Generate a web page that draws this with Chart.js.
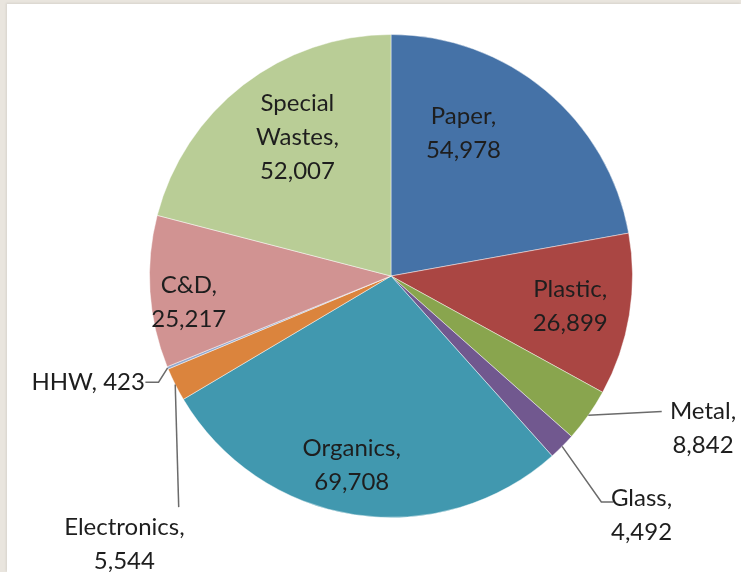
<!DOCTYPE html>
<html>
<head>
<meta charset="utf-8">
<script src="https://cdn.jsdelivr.net/npm/chart.js@4"></script>
<style>
  html, body { margin: 0; padding: 0; }
  body { background: #e9e5de; width: 741px; height: 572px; overflow: hidden; position: relative; }
  #plot { position: absolute; left: 7px; top: 4px; width: 734px; height: 568px; background: #fff;
          box-shadow: -1px -1px 2px rgba(0,0,0,0.08); }
</style>
</head>
<body>
<div id="plot"><canvas id="wasteChart" width="734" height="568"></canvas></div>
<script>
// waste composition (tons)
const categories = ["Paper", "Plastic", "Metal", "Glass", "Organics", "Electronics", "HHW", "C&D", "Special Wastes"];
const tons = [54978, 26899, 8842, 4492, 69708, 5544, 423, 25217, 52007];
const colors = ["#4572A7", "#AA4643", "#89A54E", "#71588F", "#4198AF", "#DB843D", "#93A9CF", "#D19392", "#B9CD96"];

// label text lines (name split where the original wraps)
const labelLines = [
  ["Paper,"], ["Plastic,"], ["Metal,"], ["Glass,"], ["Organics,"],
  ["Electronics,"], ["HHW, 423"], ["C&D,"], ["Special", "Wastes,"]
];

// label block centre, relative to pie centre, in units of radius
const labelPos = [
  [0.30, -0.59], [0.742, 0.125], [1.292, 0.63], [1.0375, 0.99], [-0.1625, 0.785],
  [-1.104, 1.11], [-1.254, 0.44], [-0.8375, 0.11], [-0.3875, -0.575]
];

// leader line points (label side first), radius units; null = no leader
const leaders = [
  null, null,
  [[1.121, 0.561]],
  [[0.921, 0.936], [0.871, 0.936]],
  null,
  [[-0.879, 0.957]],
  [[-1.017, 0.44], [-0.9625, 0.44]],
  null, null
];

const fmt = (v) => v.toLocaleString("en-US");

const labelPlugin = {
  id: "pieLabels",
  afterDatasetsDraw(chart) {
    const ctx = chart.ctx;
    const meta = chart.getDatasetMeta(0);
    ctx.save();
    ctx.font = "24px Lato";
    ctx.fillStyle = "#1e1e1e";
    ctx.textAlign = "center";
    ctx.textBaseline = "middle";
    const lineH = 34;

    meta.data.forEach((arc, i) => {
      const cx = arc.x, cy = arc.y, r = arc.outerRadius;
      const lines = labelLines[i].slice();
      if (i !== 6) lines.push(fmt(tons[i]));

      // leader line to the middle of the slice edge
      if (leaders[i]) {
        const mid = (arc.startAngle + arc.endAngle) / 2;
        ctx.beginPath();
        ctx.strokeStyle = "#6b6b6b";
        ctx.lineWidth = 1.5;
        leaders[i].forEach((p, k) => {
          const x = cx + p[0] * r, y = cy + p[1] * r;
          if (k === 0) ctx.moveTo(x, y); else ctx.lineTo(x, y);
        });
        ctx.lineTo(cx + Math.cos(mid) * r, cy + Math.sin(mid) * r);
        ctx.stroke();
      }

      const bx = cx + labelPos[i][0] * r;
      const by = cy + labelPos[i][1] * r;
      const top = by - (lines.length - 1) * lineH / 2;
      lines.forEach((t, k) => ctx.fillText(t, bx, top + k * lineH));
    });
    ctx.restore();
  }
};

new Chart(document.getElementById("wasteChart"), {
  type: "pie",
  data: {
    labels: categories,
    datasets: [{
      data: tons,
      backgroundColor: colors,
      borderColor: "rgba(255,255,255,0.45)",
      borderWidth: 1,
    }],
  },
  options: {
    responsive: false,
    animation: false,
    layout: { padding: { left: 142, right: 108, top: 30, bottom: 54 } },
    plugins: {
      legend: { display: false },
      tooltip: { enabled: false },
    },
  },
  plugins: [labelPlugin],
});
</script>
</body>
</html>
